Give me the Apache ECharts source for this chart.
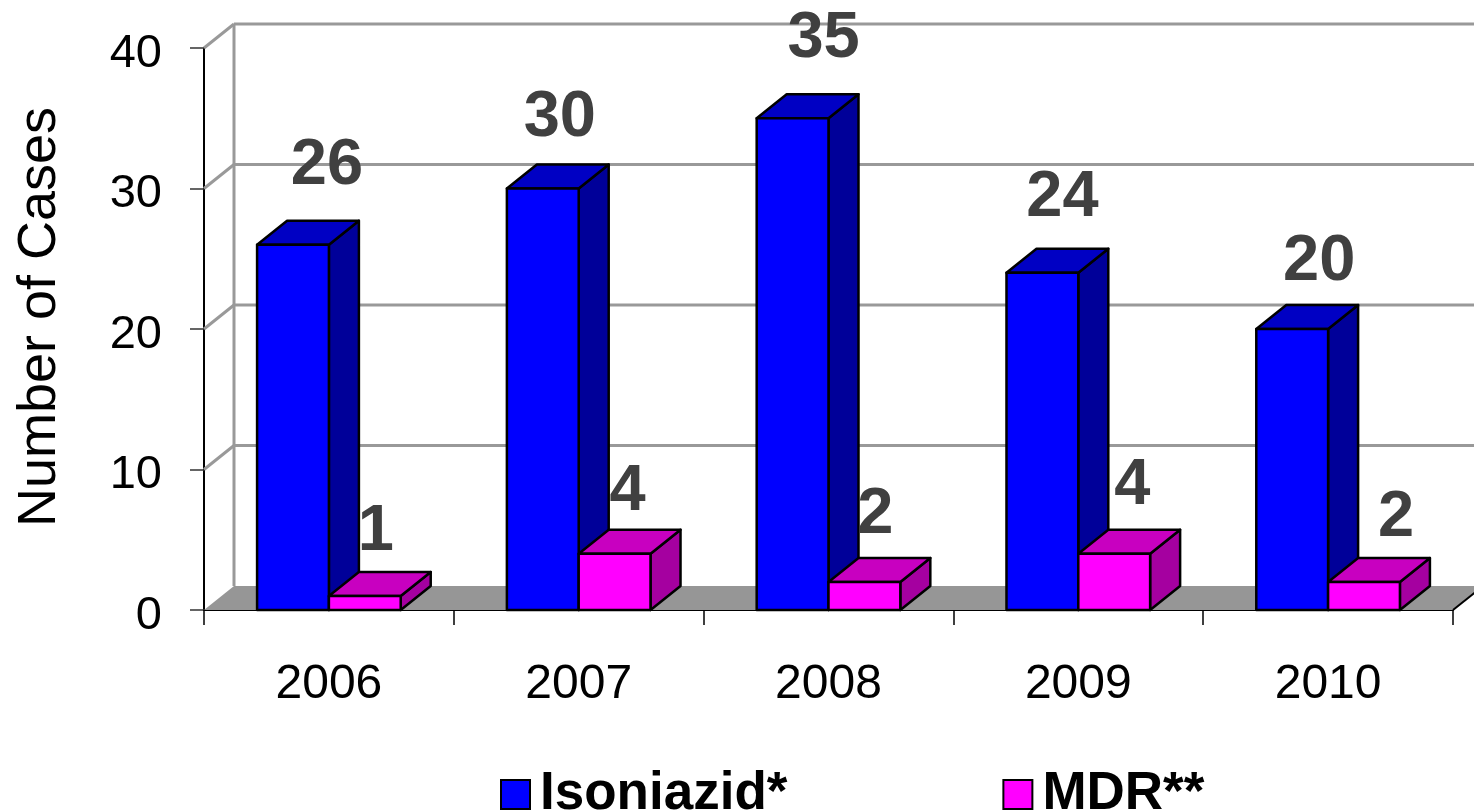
<!DOCTYPE html>
<html>
<head>
<meta charset="utf-8">
<style>html,body{margin:0;padding:0;background:#fff}#c{width:1474px;height:810px}</style>
<script src="https://cdn.jsdelivr.net/npm/echarts@6/dist/echarts.min.js"></script>
</head>
<body>
<div id="c"></div>
<script>
var years = ['2006','2007','2008','2009','2010'];
var isoniazid = [26,30,35,24,20];
var mdr = [1,4,2,4,2];
var yTicks = [0,10,20,30,40];

// hand-placed label offsets, in pixels, relative to the bar's front top centre
var isoLabelShift = [[34,-79],[17,-70],[31,-79],[20,-75],[27,-67]];
var mdrLabelShift = [[11,-64],[13,-62],[11,-67],[18,-68],[32,-64]];

var DX = 30, DY = 24, FONT = '"Liberation Sans", Arial, sans-serif';

function poly(points, fill, stroke) {
  return {type:'polygon', shape:{points:points},
    style:{fill:fill, stroke:stroke||'#000', lineWidth:2.5, lineJoin:'round'}};
}
function bar3d(side, faces, shifts) {
  return function (params, api) {
    var i = api.value(0), v = api.value(1);
    var top = api.coord([i, v]), base = api.coord([i, 0]);
    var w = api.size([1, 0])[0] * 0.2875;
    var x0 = side < 0 ? top[0] - w : top[0];
    var x1 = x0 + w, yT = top[1], yB = base[1];
    var s = shifts[i];
    return {type:'group', children:[
      poly([[x1,yB],[x1+DX,yB-DY],[x1+DX,yT-DY],[x1,yT]], faces[2]),
      poly([[x0,yT],[x0+DX,yT-DY],[x1+DX,yT-DY],[x1,yT]], faces[1]),
      poly([[x0,yT],[x1,yT],[x1,yB],[x0,yB]], faces[0]),
      {type:'text', z2:50, style:{x:(x0+x1)/2+s[0], y:yT+s[1], text:String(v),
        fill:'#404040', font:'bold 65px '+FONT, textAlign:'center', textVerticalAlign:'middle'}}
    ]};
  };
}
function wall(params, api) {
  var v = api.value(0);
  var p = api.coord([0, v]);
  var b = params.coordSys;
  var left = b.x, right = b.x + b.width, y = p[1];
  var gray = {stroke:'#999999', lineWidth:3, fill:null};
  var kids = [];
  if (v === 0) {
    kids.push({type:'polygon', shape:{points:[[left,y],[left+DX,y-DY],[right+DX,y-DY],[right,y]]},
      style:{fill:'#969696'}});
    kids.push({type:'line', shape:{x1:left+DX,y1:y-DY,x2:left+DX,y2:b.y-DY}, style:gray});
    kids.push({type:'line', shape:{x1:right,y1:y,x2:right+DX,y2:y-DY}, style:{stroke:'#000', lineWidth:2, fill:null}});
  } else {
    kids.push({type:'line', shape:{x1:left+DX,y1:y-DY,x2:right+DX,y2:y-DY}, style:gray});
    kids.push({type:'line', shape:{x1:left,y1:y,x2:left+DX,y2:y-DY}, style:gray});
  }
  return {type:'group', children:kids};
}

var chart = echarts.init(document.getElementById('c'), null, {renderer:'canvas'});
chart.setOption({
  animation:false,
  backgroundColor:'#fff',
  grid:{left:204, top:48, width:1249, height:562, containLabel:false, outerBoundsMode:'none'},
  legend:{
    data:['Isoniazid*','MDR**'], left:495, top:763, itemWidth:29, itemHeight:29, itemGap:215,
    icon:'rect', selectedMode:false,
    itemStyle:{borderColor:'#000', borderWidth:2},
    textStyle:{fontFamily:FONT, fontWeight:'bold', fontSize:53, color:'#000', padding:[0,0,0,5]}
  },
  xAxis:{
    type:'category', data:years, boundaryGap:true,
    axisLine:{show:true, onZero:false, lineStyle:{color:'#000', width:2}},
    axisTick:{show:true, length:15, alignWithLabel:false, lineStyle:{color:'#000', width:1.5}},
    axisLabel:{margin:51, fontFamily:FONT, fontSize:48, color:'#000'},
    splitLine:{show:false}
  },
  yAxis:{
    type:'value', min:0, max:40, interval:10,
    name:'Number of Cases', nameLocation:'middle', nameGap:137, nameRotate:90,
    nameTextStyle:{fontFamily:FONT, fontSize:54, color:'#000', padding:[0,0,0,24]},
    axisLine:{show:true, lineStyle:{color:'#000', width:2}},
    axisTick:{show:true, length:14, lineStyle:{color:'#333', width:1.5}},
    axisLabel:{margin:42, fontFamily:FONT, fontSize:47, color:'#000', verticalAlign:'top', lineHeight:12},
    splitLine:{show:false}
  },
  series:[
    {type:'custom', name:'wall', silent:true, clip:false, z:1,
     encode:{x:-1,y:0}, data:yTicks.map(function(t){return [t];}), renderItem:wall},
    {type:'custom', name:'Isoniazid*', clip:false, z:3, itemStyle:{color:'#0000FF'},
     encode:{x:0,y:1}, data:isoniazid.map(function(v,i){return [i,v];}),
     renderItem:bar3d(-1,['#0000FF','#0000C4','#000099'],isoLabelShift)},
    {type:'custom', name:'MDR**', clip:false, z:4, itemStyle:{color:'#FF00FF'},
     encode:{x:0,y:1}, data:mdr.map(function(v,i){return [i,v];}),
     renderItem:bar3d(1,['#FF00FF','#C800C0','#A500A0'],mdrLabelShift)}
  ]
});
</script>
</body>
</html>
